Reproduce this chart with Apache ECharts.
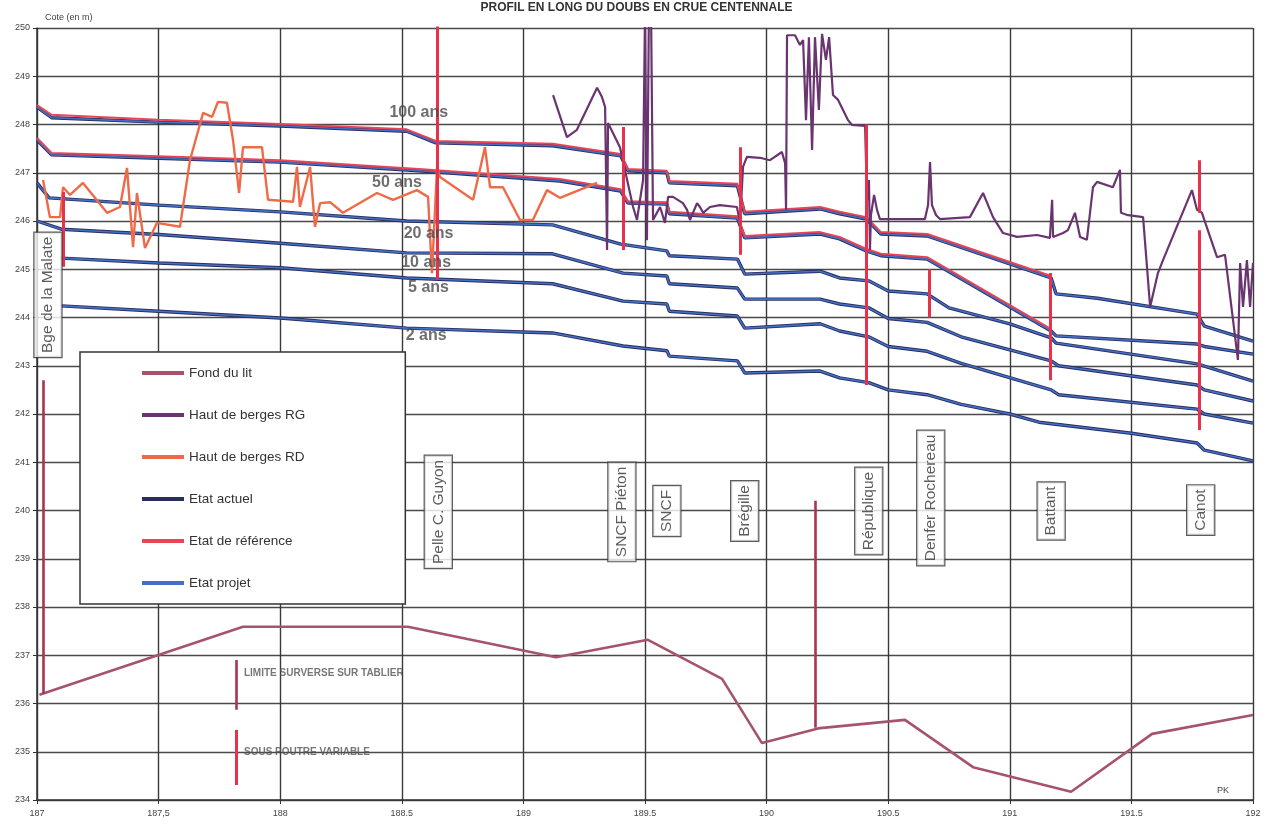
<!DOCTYPE html>
<html><head><meta charset="utf-8">
<script src="https://cdn.jsdelivr.net/npm/echarts@6/dist/echarts.min.js"></script>
<style>html,body{margin:0;padding:0;background:#fff}#c{width:1273px;height:832px}</style>
</head><body><div id="c"></div>
<script>
// ---------- DATA ----------
const xTickLabels = ['187','187,5','188','188.5','189','189.5','190','190.5','191','191.5','192'];

const fondDuLit = [[187.01,236.18],[187.847,237.59],[188.525,237.59],[189.134,236.96],[189.512,237.32],[189.817,236.51],[189.981,235.18],[190.22,235.49],[190.569,235.66],[190.849,234.68],[191.252,234.17],[191.585,235.37],[192.0,235.76]];

const bergesRG = [[189.122,248.61],[189.179,247.74],[189.22,247.89],[189.303,248.76],[189.323,248.57],[189.336,248.36],[189.344,245.4],[189.348,248.03],[189.397,247.53],[189.451,246.29],[189.467,246.02],[189.492,246.85],[189.5,250.3],[189.508,245.6],[189.516,250.3],[189.525,250.3],[189.533,246.02],[189.549,246.17],[189.562,246.29],[189.582,245.96],[189.595,246.5],[189.615,246.5],[189.656,246.37],[189.673,246.23],[189.685,246.02],[189.714,246.37],[189.726,246.29],[189.739,246.17],[189.767,246.29],[189.808,246.33],[189.878,246.29],[189.891,245.96],[189.903,247.12],[189.919,247.33],[189.973,247.31],[190.014,247.26],[190.063,247.43],[190.076,247.2],[190.08,246.23],[190.084,249.85],[190.117,249.85],[190.137,249.65],[190.15,249.75],[190.162,248.09],[190.174,249.81],[190.187,247.47],[190.199,249.81],[190.215,248.3],[190.228,249.88],[190.244,249.34],[190.257,249.81],[190.273,248.61],[190.294,248.51],[190.335,248.09],[190.351,247.99],[190.405,247.97],[190.413,246.44],[190.421,246.85],[190.425,245.4],[190.429,246.12],[190.442,246.54],[190.454,246.23],[190.466,246.04],[190.651,246.04],[190.664,246.33],[190.672,247.22],[190.68,246.33],[190.697,246.12],[190.713,246.04],[190.836,246.08],[190.89,246.58],[190.931,246.08],[190.972,245.75],[191.03,245.67],[191.112,245.71],[191.165,245.65],[191.174,246.44],[191.178,245.67],[191.219,245.75],[191.239,245.81],[191.268,246.17],[191.289,245.67],[191.317,245.61],[191.342,246.7],[191.359,246.81],[191.424,246.7],[191.453,247.06],[191.457,246.17],[191.486,246.12],[191.548,246.08],[191.577,244.22],[191.609,244.92],[191.63,245.19],[191.749,246.64],[191.77,246.23],[191.79,246.17],[191.852,245.25],[191.885,245.3],[191.938,243.12],[191.947,245.13],[191.959,244.22],[191.975,245.19],[191.988,244.22],[192.0,245.13]];

const bergesRD = [[187.025,246.85],[187.053,246.08],[187.095,246.08],[187.107,246.7],[187.136,246.54],[187.189,246.79],[187.288,246.17],[187.341,246.29],[187.37,247.1],[187.395,245.46],[187.411,246.58],[187.444,245.44],[187.493,245.96],[187.588,245.88],[187.629,247.26],[187.683,248.24],[187.72,248.16],[187.744,248.47],[187.781,248.45],[187.806,247.68],[187.831,246.58],[187.847,247.53],[187.925,247.53],[187.95,246.44],[188.053,246.4],[188.069,247.12],[188.081,246.29],[188.123,247.12],[188.143,245.88],[188.164,246.37],[188.205,246.39],[188.258,246.17],[188.398,246.58],[188.464,246.44],[188.562,246.64],[188.608,246.5],[188.624,244.92],[188.645,247.12],[188.657,246.91],[188.793,246.44],[188.842,247.53],[188.863,246.7],[188.916,246.7],[188.986,246.02],[189.039,246.02],[189.097,246.64],[189.15,246.48],[189.303,246.79]];

const periods = ['100 ans','50 ans','20 ans','10 ans','5 ans','2 ans'];

const actuel100 = [[187.0,248.36],[187.06,248.14],[187.5,248.05],[188.0,247.97],[188.52,247.86],[188.64,247.62],[189.12,247.56],[189.4,247.35],[189.43,247.04],[189.59,247.0],[189.6,246.79],[189.88,246.73],[189.91,246.15],[190.22,246.25],[190.3,246.15],[190.41,246.04],[190.47,245.73],[190.66,245.69],[191.17,244.82],[191.19,244.49],[191.36,244.4],[191.77,244.07],[191.8,243.82],[192.0,243.51]];
const actuel50 = [[187.0,247.68],[187.06,247.37],[187.5,247.3],[188.0,247.22],[188.57,247.04],[189.15,246.83],[189.4,246.62],[189.43,246.37],[189.59,246.35],[189.6,246.15],[189.88,246.06],[189.91,245.65],[190.22,245.73],[190.3,245.63],[190.41,245.38],[190.47,245.28],[190.66,245.21],[191.17,243.72],[191.19,243.62],[191.77,243.45],[191.8,243.4],[192.0,243.24]];
const actuel20 = [[187.0,246.79],[187.05,246.48],[187.5,246.33],[188.0,246.19],[188.52,246.0],[189.12,245.92],[189.4,245.52],[189.59,245.38],[189.6,245.28],[189.88,245.21],[189.91,244.9],[190.22,244.96],[190.3,244.82],[190.42,244.76],[190.5,244.55],[190.66,244.49],[190.75,244.2],[191.0,243.87],[191.17,243.58],[191.19,243.47],[191.77,243.04],[192.0,242.68]];
const actuel10 = [[187.0,246.0],[187.1,245.83],[187.5,245.72],[188.0,245.54],[188.52,245.34],[189.12,245.32],[189.41,244.92],[189.59,244.86],[189.6,244.7],[189.88,244.61],[189.91,244.38],[190.22,244.38],[190.3,244.28],[190.42,244.2],[190.5,243.98],[190.66,243.9],[190.8,243.6],[191.17,243.1],[191.2,243.0],[191.77,242.6],[191.8,242.5],[192.0,242.27]];
const actuel5 = [[187.1,245.23],[187.5,245.13],[188.0,245.03],[188.52,244.82],[189.12,244.7],[189.41,244.34],[189.59,244.28],[189.6,244.13],[189.88,244.03],[189.91,243.78],[190.22,243.87],[190.3,243.72],[190.42,243.6],[190.5,243.4],[190.66,243.3],[190.8,243.05],[191.17,242.5],[191.2,242.4],[191.77,242.1],[191.8,242.0],[192.0,241.81]];
const actuel2 = [[187.1,244.24],[187.5,244.13],[188.0,243.99],[188.52,243.78],[189.12,243.68],[189.41,243.41],[189.59,243.31],[189.6,243.2],[189.88,243.1],[189.91,242.85],[190.22,242.89],[190.3,242.75],[190.42,242.65],[190.5,242.5],[190.66,242.4],[190.8,242.2],[191.0,242.0],[191.12,241.83],[191.5,241.6],[191.77,241.4],[191.8,241.25],[192.0,241.03]];

const projet100 = actuel100, projet50 = actuel50, projet20 = actuel20, projet10 = actuel10, projet5 = actuel5, projet2 = actuel2;

const reference100 = [[187.0,248.4],[187.06,248.2],[187.5,248.1],[188.0,248.01],[188.52,247.9],[188.64,247.66],[189.12,247.6],[189.4,247.39],[189.43,247.08],[189.59,247.04],[189.6,246.83],[189.88,246.77],[189.91,246.19],[190.22,246.29],[190.3,246.19],[190.41,246.08],[190.47,245.77],[190.66,245.73],[191.17,244.86]];
const reference50 = [[187.0,247.72],[187.06,247.41],[187.5,247.34],[188.0,247.26],[188.57,247.08],[189.15,246.87],[189.4,246.66],[189.43,246.41],[189.59,246.39],[189.6,246.19],[189.88,246.1],[189.91,245.69],[190.22,245.77],[190.3,245.67],[190.41,245.42],[190.47,245.32],[190.66,245.25],[191.17,243.76]];

// bridge markers: [PK, bottom, top]
const surverseMarks = [[187.025,236.2,242.7],[190.2,235.5,240.2],[187.82,235.87,236.9]];
const poutreMarks = [[188.645,244.8,250.3],[187.107,245.05,246.6],[189.41,245.4,247.95],[189.89,245.3,247.53],[190.41,242.6,248.0],[190.67,244.0,245.0],[191.165,242.7,244.92],[191.78,241.67,245.81],[191.78,246.17,247.26],[187.82,234.31,235.45]];

const bridgeNames = ['Bge de la Malate','Pelle C. Guyon','SNCF Piéton','SNCF','Brégille','République','Denfer Rochereau','Battant','Canot'];
const bridgePK = [187.045,188.65,189.405,189.59,189.91,190.42,190.675,191.17,191.785];

const noteTexts = ['LIMITE SURVERSE SUR TABLIER','SOUS POUTRE VARIABLE'];

// ---------- LAYOUT (label anchors) ----------
const bridgeLabelLevel = [244.47,239.97,239.97,239.99,239.99,239.99,240.26,239.99,240.01];
const periodLabelPos = [[188.57,248.24],[188.48,246.79],[188.61,245.73],[188.6,245.13],[188.61,244.61],[188.6,243.62]];
const notePos = [[187.851,236.63],[187.851,234.99]];

// ---------- CHART ----------
const FONT = 'Liberation Sans, Arial, sans-serif';
const C = {fond:'#a5546b', rg:'#6a3470', rd:'#ef6a48', actuel:'#2a2d5e', ref:'#ea4457', projet:'#4170c4'};
const actuelSets = [actuel100,actuel50,actuel20,actuel10,actuel5,actuel2];
const projetSets = [projet100,projet50,projet20,projet10,projet5,projet2];
const refSets = [reference100,reference50];

function lineSeries(name, data, color, width, z){
  return {type:'line', name, data, showSymbol:false, symbol:'none', silent:true, z:z||2,
    lineStyle:{color, width}, itemStyle:{color}};
}
const series = [];
actuelSets.forEach(d=>series.push(lineSeries('Etat actuel', d, C.actuel, 3.4, 2)));
projetSets.forEach(d=>series.push(lineSeries('Etat projet', d, C.projet, 1.6, 3)));
refSets.forEach(d=>series.push(lineSeries('Etat de référence', d, C.ref, 2, 4)));
series.push(lineSeries('Haut de berges RD', bergesRD, C.rd, 2.4, 5));
series.push(lineSeries('Haut de berges RG', bergesRG, C.rg, 2.2, 5));
series.push(lineSeries('Fond du lit', fondDuLit, C.fond, 2.6, 5));
series.push({type:'lines', coordinateSystem:'cartesian2d', silent:true, z:6,
  lineStyle:{color:'#a8344f', width:2.6, opacity:1},
  data: surverseMarks.map(m=>({coords:[[m[0],m[1]],[m[0],m[2]]]}))});
series.push({type:'lines', coordinateSystem:'cartesian2d', silent:true, z:6,
  lineStyle:{color:'#e8314a', width:3, opacity:1},
  data: poutreMarks.map(m=>({coords:[[m[0],m[1]],[m[0],m[2]]]}))});
series.push({type:'scatter', symbolSize:0, silent:true, z:8,
  data: bridgeNames.map((n,i)=>({name:n, value:[bridgePK[i], bridgeLabelLevel[i]]})),
  label:{show:true, position:'inside', rotate:90, formatter:p=>p.name, fontFamily:FONT, fontSize:15.5,
    color:'#333', backgroundColor:'#fff', borderColor:'#333', borderWidth:1.2, padding:[6,4,5,4]}});
series.push({type:'scatter', symbolSize:0, silent:true, z:8,
  data: periods.map((n,i)=>({name:n, value:periodLabelPos[i]})),
  label:{show:true, position:'inside', formatter:p=>p.name, fontFamily:FONT, fontSize:16,
    color:'#4a4a4a', fontWeight:'bold'}});
series.push({type:'scatter', symbolSize:0, silent:true, z:8,
  data: noteTexts.map((n,i)=>({name:n, value:notePos[i]})),
  label:{show:true, position:'right', distance:0, formatter:p=>p.name, fontFamily:FONT, fontSize:10,
    color:'#555', fontWeight:'bold'}});

const chart = echarts.init(document.getElementById('c'), null, {renderer:'canvas'});
chart.setOption({
  animation:false,
  backgroundColor:'#fff',
  title:[{text:'PROFIL EN LONG DU DOUBS EN CRUE CENTENNALE', left:'center', top:-3,
      textStyle:{fontFamily:FONT, fontSize:12, fontWeight:'bold', color:'#333'}},
    {text:'Cote (en m)', left:40, top:8, textStyle:{fontFamily:FONT, fontSize:9, fontWeight:'normal', color:'#444'}},
    {text:'PK', left:1212, top:781, textStyle:{fontFamily:FONT, fontSize:9, fontWeight:'normal', color:'#444'}}],
  grid:{left:37, right:20, top:28, bottom:32, containLabel:false},
  legend:{data:['Fond du lit','Haut de berges RG','Haut de berges RD','Etat actuel','Etat de référence','Etat projet'],
    orient:'vertical', left:80, top:352, itemGap:28, itemWidth:42, itemHeight:4, icon:'rect',
    padding:[14,100,14,62], backgroundColor:'#fff', borderColor:'#333', borderWidth:1.5,
    selectedMode:false, textStyle:{fontFamily:FONT, fontSize:13.5, color:'#333'}},
  xAxis:{type:'value', min:187, max:192, interval:0.5,
    axisLine:{show:true, lineStyle:{color:'#333', width:1.5}},
    axisTick:{show:true, length:4, lineStyle:{color:'#333'}},
    axisLabel:{fontFamily:FONT, fontSize:9, color:'#444', margin:9,
      formatter:v=>xTickLabels[Math.round((v-187)/0.5)]},
    splitLine:{show:true, lineStyle:{color:'#3a3a3a', width:1.4}}},
  yAxis:{type:'value', min:234, max:250, interval:1,
    axisLine:{show:true, lineStyle:{color:'#333', width:1.5}},
    axisTick:{show:true, length:4, lineStyle:{color:'#333'}},
    axisLabel:{fontFamily:FONT, fontSize:9, color:'#444', margin:7},
    splitLine:{show:true, lineStyle:{color:'#4a4a4a', width:1.3}}},
  series
});
</script></body></html>
